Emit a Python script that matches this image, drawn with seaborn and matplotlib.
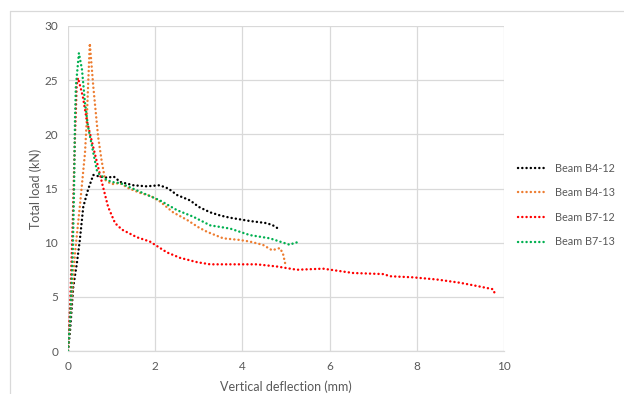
import matplotlib
matplotlib.use("Agg")
import matplotlib.pyplot as plt
import seaborn as sns
import pandas as pd
from matplotlib.lines import Line2D

# ---- data ----
b412_x = [0, 0.05, 0.12, 0.2, 0.27, 0.35, 0.46, 0.58, 0.73, 0.9, 1.05, 1.2, 1.5, 1.8,
          2.1, 2.3, 2.5, 2.8, 3.0, 3.26, 3.5, 3.72, 4.17, 4.56, 4.7, 4.82]
b412_y = [0, 2.0, 5.9, 8.0, 10.2, 13.3, 14.9, 16.25, 16.1, 16.0, 16.1, 15.6, 15.3, 15.2,
          15.3, 15.0, 14.4, 13.9, 13.3, 12.8, 12.5, 12.3, 12.0, 11.8, 11.6, 11.3]

b413_x = [0, 0.05, 0.16, 0.28, 0.39, 0.43, 0.46, 0.5, 0.58, 0.69, 0.77, 0.85, 1.0, 1.19,
          1.4, 1.65, 1.9, 2.11, 2.41, 2.73, 3.0, 3.19, 3.56, 3.94, 4.17, 4.47, 4.68, 4.86,
          4.93, 4.98]
b413_y = [0, 2.9, 9.0, 13.7, 18.3, 21.3, 24.4, 28.4, 24.4, 19.8, 17.6, 15.8, 15.4, 15.5,
          15.0, 14.6, 14.3, 13.8, 12.8, 12.1, 11.4, 11.0, 10.4, 10.25, 10.1, 9.8, 9.3, 9.5,
          9.0, 8.1]

b712_x = [0, 0.05, 0.11, 0.16, 0.2, 0.23, 0.34, 0.43, 0.58, 0.69, 0.8, 0.92, 1.08, 1.24,
          1.58, 1.88, 2.27, 2.57, 2.96, 3.26, 3.72, 4.33, 4.79, 5.25, 5.85, 6.54, 7.23, 7.39,
          7.91, 8.46, 8.99, 9.38, 9.75, 9.78]
b712_y = [0, 4.4, 12.1, 19.8, 24.6, 25.2, 23.5, 21.3, 18.8, 17.0, 15.2, 13.3, 11.8, 11.2,
          10.5, 10.1, 9.1, 8.6, 8.2, 8.0, 8.0, 8.0, 7.8, 7.5, 7.6, 7.2, 7.1, 6.9,
          6.8, 6.6, 6.3, 6.0, 5.7, 5.4]

b713_x = [0, 0.05, 0.11, 0.14, 0.16, 0.18, 0.25, 0.32, 0.39, 0.46, 0.58, 0.66, 0.7, 0.85,
          1.0, 1.2, 1.65, 2.11, 2.5, 2.87, 3.26, 3.72, 4.17, 4.63, 5.09, 5.2, 5.32]
b713_y = [0, 2.9, 9.0, 15.2, 21.3, 24.4, 27.5, 26.0, 22.9, 20.7, 18.3, 16.7, 16.4, 15.9,
          15.6, 15.5, 14.7, 13.9, 13.0, 12.4, 11.6, 11.3, 10.7, 10.4, 9.8, 10.0, 10.05]

series_names = ["Beam B4-12", "Beam B4-13", "Beam B7-12", "Beam B7-13"]
series_x = [b412_x, b413_x, b712_x, b713_x]
series_y = [b412_y, b413_y, b712_y, b713_y]
colors = ["#000000", "#ED7D31", "#FF0000", "#00B050"]

x_ticks = [0, 2, 4, 6, 8, 10]
y_ticks = [0, 5, 10, 15, 20, 25, 30]

frames = []
for name, xs, ys in zip(series_names, series_x, series_y):
    frames.append(pd.DataFrame({"x": xs, "y": ys, "series": name, "order": range(len(xs))}))
df = pd.concat(frames, ignore_index=True)

sns.set_style("white")
plt.rcParams["font.family"] = ["Lato", "DejaVu Sans"]

DOT = (0, (0.05, 1.7))
LW = 1.75

fig = plt.figure(figsize=(6.24, 3.94), dpi=100)
ax = fig.add_axes([68 / 624, 1 - 351 / 394, (504 - 68) / 624, (351 - 26) / 394])

for name, col in zip(series_names, colors):
    sub = df[df["series"] == name]
    sns.lineplot(data=sub, x="x", y="y", sort=False, estimator=None, ax=ax,
                 color=col, linewidth=LW, dashes=False, legend=False)
for line in ax.lines:
    line.set_linestyle(DOT)
    line.set_dash_capstyle("round")

ax.set_xlim(0, 10)
ax.set_ylim(0, 30)
ax.set_xticks(x_ticks)
ax.set_yticks(y_ticks)
ax.grid(True, color="#D9D9D9", linewidth=0.9)
ax.set_axisbelow(True)
for s in ["top", "right", "left"]:
    ax.spines[s].set_visible(False)
ax.spines["bottom"].set_color("#D9D9D9")
ax.spines["bottom"].set_linewidth(0.9)
ax.tick_params(axis="both", length=0, labelsize=8.5, labelcolor="#595959", pad=7)
ax.set_xlabel("Vertical deflection (mm)", fontsize=9, color="#595959", labelpad=6)
ax.set_ylabel("Total load (kN)", fontsize=9, color="#595959", labelpad=2)

handles = [Line2D([0], [0], color=c, linewidth=LW, linestyle=DOT,
                  dash_capstyle="round") for c in colors]
leg = fig.legend(handles, series_names, loc="center left",
                 bbox_to_anchor=(508 / 624, 1 - 205 / 394), frameon=False,
                 fontsize=7.8, handlelength=2.6, labelspacing=1.25, handletextpad=0.8)
for t in leg.get_texts():
    t.set_color("#595959")

# outer chart frame (partly visible)
fig.add_artist(Line2D([10 / 624, 10 / 624], [0, 1 - 11 / 394], transform=fig.transFigure,
                      color="#D9D9D9", linewidth=0.9))
fig.add_artist(Line2D([10 / 624, 1], [1 - 11 / 394, 1 - 11 / 394], transform=fig.transFigure,
                      color="#D9D9D9", linewidth=0.9))

fig.savefig("out.png", dpi=100)
